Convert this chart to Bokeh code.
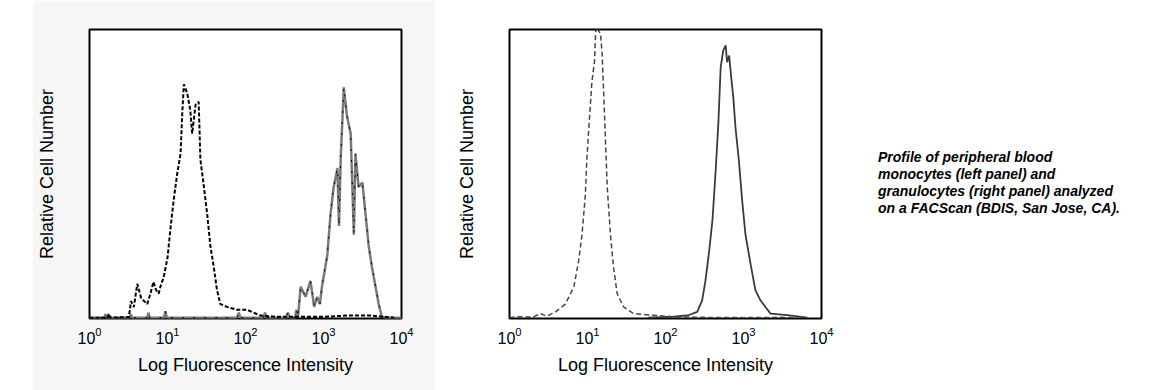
from bokeh.plotting import figure
from bokeh.layouts import row
from bokeh.models import Range1d, Div, Spacer, FixedTicker
from bokeh.embed import file_html
from bokeh.resources import INLINE

# ---- data (fluorescence intensity, relative cell number in % of panel height) ----
left_ctrl_x = [1.0, 1.7, 1.77, 1.85, 3.2, 3.4, 3.7, 4.1, 4.6, 5.5, 6.1, 6.6, 7.1, 7.7, 8.3, 8.9, 10.0, 11.0, 12.0,
               13.3, 14.7, 15.4, 16.2, 17.9, 19.6, 20.7, 22.9, 25.1, 26.4, 29.3, 32.3, 35.5, 39.1, 43.0, 47.6,
               58.0, 78.0, 105.0, 155.0, 250.0, 1000.0, 2000.0, 4000.0, 6000.0, 8000.0]
left_ctrl_y = [0.3, 0.3, 1.7, 0.3, 0.5, 6.0, 4.0, 12.0, 7.0, 5.0, 9.0, 12.7, 10.0, 8.6, 12.0, 14.0, 21.0, 32.0, 41.0,
               50.0, 57.0, 70.0, 81.0, 78.0, 72.0, 64.0, 74.0, 75.0, 55.0, 45.5, 36.0, 25.0, 18.0, 10.0, 5.0,
               4.0, 3.0, 3.0, 1.0, 0.6, 0.6, 1.0, 1.0, 0.6, 0.3]

left_samp_x = [1.0, 1.55, 1.6, 1.65, 3.3, 3.4, 3.5, 5.5, 5.7, 5.9, 9.0, 9.4, 9.8, 78.0, 82.0, 86.0, 170.0, 178.0,
               186.0, 330.0, 350.0, 370.0, 430.0, 450.0, 470.0, 510.0, 590.0, 680.0, 760.0, 830.0, 900.0, 955.0,
               1120.0, 1230.0, 1350.0, 1510.0, 1580.0, 1660.0, 1820.0, 2000.0, 2230.0, 2450.0, 2570.0, 2820.0,
               3150.0, 3460.0, 3800.0, 4170.0, 4650.0, 5100.0, 5600.0, 6500.0, 10000.0]
left_samp_y = [0.3, 0.3, 1.5, 0.3, 0.3, 1.5, 0.3, 0.3, 2.0, 0.3, 0.3, 2.5, 0.3, 0.3, 2.0, 0.3, 0.3, 2.0,
               0.3, 0.3, 2.0, 0.3, 0.3, 3.0, 0.3, 11.0, 7.5, 13.0, 4.0, 7.5, 5.0, 11.0,
               22.0, 36.0, 45.5, 52.0, 32.0, 55.0, 80.0, 70.0, 64.0, 29.0, 57.0, 45.5,
               47.0, 36.0, 25.0, 18.0, 11.0, 5.0, 0.6, 0.3, 0.3]

right_ctrl_x = [1.0, 1.26, 2.0, 2.5, 3.0, 3.9, 5.2, 6.7, 7.7, 8.5, 9.4, 9.8, 10.4, 11.4, 12.3, 12.8, 14.7, 15.4,
                16.2, 17.9, 19.7, 21.5, 24.0, 29.0, 39.0, 64.0, 126.0, 300.0, 1000.0, 3000.0, 5000.0]
right_ctrl_y = [0.3, 0.6, 0.5, 1.7, 0.8, 2.3, 5.0, 11.0, 20.0, 29.0, 43.0, 55.0, 66.0, 82.0, 89.0, 101.0, 98.5, 91.6,
                76.6, 45.5, 29.0, 18.0, 8.6, 4.0, 1.7, 1.2, 0.6, 0.4, 0.3, 0.4, 0.3]

right_samp_x = [60.0, 126.0, 200.0, 255.0, 295.0, 325.0, 360.0, 400.0, 437.0, 475.0, 510.0, 550.0, 590.0, 617.0,
                655.0, 695.0, 740.0, 790.0, 870.0, 960.0, 1060.0, 1230.0, 1420.0, 1650.0, 1910.0, 2220.0,
                3640.0, 6600.0]
right_samp_y = [0.3, 0.6, 1.2, 2.3, 6.3, 13.0, 22.5, 34.0, 50.0, 67.0, 87.0, 92.7, 94.5, 88.7,
                91.0, 83.5, 76.6, 66.0, 55.0, 41.0, 29.0, 19.0, 9.8, 6.3, 4.0, 1.7,
                1.2, 0.3]

caption = "Profile of peripheral blood<br>monocytes (left panel) and<br>granulocytes (right panel) analyzed<br>on a FACScan (BDIS, San Jose, CA)."

FONT = "Liberation Sans"


def make_panel(bg, left, right):
    p = figure(x_axis_type="log", x_range=Range1d(1, 10000), y_range=Range1d(0, 100),
               frame_width=312, frame_height=289, output_backend="svg", toolbar_location=None,
               min_border_left=left, min_border_right=right, min_border_top=29, min_border_bottom=72,
               background_fill_color="white", border_fill_color=bg)
    p.grid.visible = False
    p.outline_line_color = "black"
    p.outline_line_width = 2
    p.xaxis.ticker = FixedTicker(ticks=[1, 10, 100, 1000, 10000])
    p.xaxis.axis_line_color = None
    p.xaxis.major_tick_line_color = None
    p.xaxis.minor_tick_line_color = None
    p.xaxis.major_label_text_font = FONT
    p.xaxis.major_label_text_font_size = "16px"
    p.xaxis.major_label_text_color = "black"
    p.xaxis.major_label_standoff = 2
    p.xaxis.axis_label = "Log Fluorescence Intensity"
    p.xaxis.axis_label_text_font = FONT
    p.xaxis.axis_label_text_font_size = "18px"
    p.xaxis.axis_label_text_font_style = "normal"
    p.xaxis.axis_label_text_color = "black"
    p.xaxis.axis_label_standoff = 8
    p.yaxis.ticker = FixedTicker(ticks=[])
    p.yaxis.axis_line_color = None
    p.yaxis.major_tick_line_color = None
    p.yaxis.minor_tick_line_color = None
    p.yaxis.axis_label = "Relative Cell Number"
    p.yaxis.axis_label_text_font = FONT
    p.yaxis.axis_label_text_font_size = "18px"
    p.yaxis.axis_label_text_font_style = "normal"
    p.yaxis.axis_label_text_color = "black"
    p.yaxis.axis_label_standoff = 33
    return p


p1 = make_panel("#f6f6f6", 57, 34)
p1.line(left_samp_x, left_samp_y, line_color="#7a7a7a", line_width=2.5)
p1.line(left_samp_x, left_samp_y, line_color="black", line_width=1, line_dash="2 9")
p1.line(left_ctrl_x, left_ctrl_y, line_color="black", line_width=2, line_dash="4 2")

p2 = make_panel("white", 74, 57)
p2.line(right_samp_x, right_samp_y, line_color="#3a3a3a", line_width=1.8)
p2.line(right_ctrl_x, right_ctrl_y, line_color="#444444", line_width=1.5, line_dash="5 3")

div = Div(text=caption, width=270, margin=(149, 0, 0, 0),
          styles={"font-family": FONT, "font-size": "14px", "font-weight": "bold",
                  "font-style": "italic", "line-height": "17px", "color": "black"})

layout = row(Spacer(width=32, height=10), p1, p2, div)

open("out.html", "w").write(file_html(layout, INLINE))
